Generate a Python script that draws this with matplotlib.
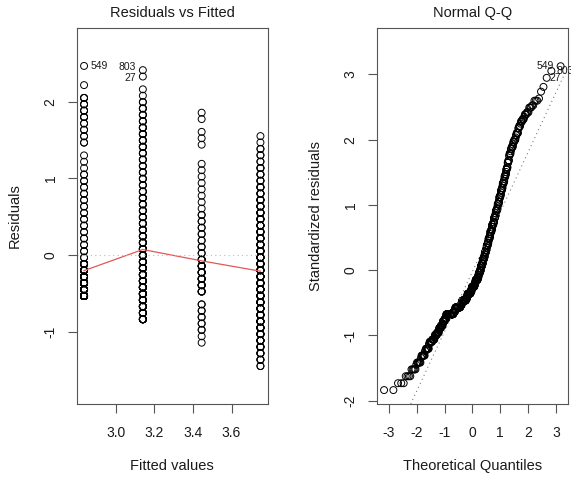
import numpy as np
import matplotlib
matplotlib.use("Agg")
import matplotlib.pyplot as plt
from statistics import NormalDist

plt.rcParams['font.family'] = ['Liberation Sans', 'DejaVu Sans']
plt.rcParams['axes.unicode_minus'] = False

# ---- data -------------------------------------------------------------
# fitted value of each of the four predictor groups
fitted_levels = [2.835, 3.140, 3.445, 3.750]

# observed response values (shared grid) and how many cases sit at each
response_levels = [2.300, 2.383, 2.467, 2.550, 2.633, 2.717, 2.800, 2.883, 2.967, 3.050,
                   3.133, 3.217, 3.300, 3.383, 3.467, 3.550, 3.633, 3.717, 3.800, 3.883,
                   3.967, 4.050, 4.133, 4.217, 4.300, 4.383, 4.467, 4.550, 4.633, 4.717,
                   4.800, 4.883, 4.967, 5.050, 5.133, 5.217, 5.300, 5.383, 5.467, 5.550]

counts_group1 = [38, 30, 25, 18, 14, 10, 2, 2, 2, 2,
                 2, 2, 2, 2, 2, 2, 2, 2, 2, 2,
                 1, 1, 1, 0, 2, 2, 2, 2, 3, 3,
                 3, 3, 0, 1, 0, 0, 1, 0, 0, 0]
counts_group2 = [8, 8, 9, 10, 12, 12, 11, 9, 8, 7,
                 7, 6, 6, 5, 5, 4, 4, 4, 4, 4,
                 3, 3, 3, 3, 3, 3, 3, 4, 4, 4,
                 4, 3, 3, 3, 2, 1, 1, 0, 1, 1]
counts_group3 = [1, 1, 2, 2, 2, 2, 2, 0, 4, 5,
                 5, 5, 5, 4, 2, 2, 2, 2, 2, 2,
                 2, 1, 1, 1, 1, 1, 1, 1, 1, 0,
                 0, 1, 1, 1, 0, 1, 1, 0, 0, 0]
counts_group4 = [2, 3, 4, 5, 6, 7, 8, 8, 8, 8,
                 9, 10, 10, 9, 9, 8, 8, 8, 8, 7,
                 7, 6, 6, 6, 6, 5, 5, 4, 4, 3,
                 3, 3, 2, 2, 2, 1, 1, 0, 0, 0]

# identified observations: case id, group, response level
label_ids = ["549", "803", "27"]
label_group = [0, 1, 1]
label_level = [36, 39, 38]

# ---- build the observations ---------------------------------------------
counts_by_group = [counts_group1, counts_group2, counts_group3, counts_group4]
yh, yobs, first_index = [], [], {}
for g, counts in enumerate(counts_by_group):
    for k, c in enumerate(counts):
        if c > 0:
            first_index[(g, k)] = len(yh)
        for _ in range(c):
            yh.append(fitted_levels[g])
            yobs.append(response_levels[k])
yh = np.array(yh)
yobs = np.array(yobs)
r = yobs - yh
n = len(r)

# standardized residuals (simple regression leverage)
sxx = np.sum((yh - yh.mean()) ** 2)
lev = 1.0 / n + (yh - yh.mean()) ** 2 / sxx
s = np.sqrt(np.sum(r ** 2) / (n - 2))
rs = r / (s * np.sqrt(1 - lev))

# theoretical normal quantiles
nd = NormalDist()
order = np.argsort(rs, kind="stable")
probs = (np.arange(1, n + 1) - 0.5) / n
tq = np.empty(n)
tq[order] = [nd.inv_cdf(p) for p in probs]


def lowess(x, y, f=2 / 3, nsteps=3):
    o = np.argsort(x, kind="stable")
    x = np.asarray(x, float)[o]
    y = np.asarray(y, float)[o]
    n = len(x)
    ns = max(2, min(n, int(f * n + 1e-7)))
    rng = x[-1] - x[0]
    rw = np.ones(n)
    ys = np.zeros(n)
    for it in range(nsteps + 1):
        nleft, nright = 0, ns - 1
        i = 0
        while i < n:
            while nright < n - 1 and x[i] - x[nleft] > x[nright + 1] - x[i]:
                nleft += 1
                nright += 1
            h = max(x[i] - x[nleft], x[nright] - x[i])
            d = np.abs(x - x[i])
            idx = np.arange(n)
            use = (idx >= nleft) & (d <= 0.999 * h)
            w = np.zeros(n)
            w[use] = np.where(d[use] <= 0.001 * h, 1.0,
                              (1 - (d[use] / max(h, 1e-12)) ** 3) ** 3)
            if it > 0:
                w *= rw
            a = w.sum()
            if a <= 0:
                fit = y[i]
            else:
                w = w / a
                if h > 0:
                    xm = np.sum(w * x)
                    b = x[i] - xm
                    c = np.sum(w * (x - xm) ** 2)
                    if np.sqrt(c) > 0.001 * rng:
                        w = w * (b / c * (x - xm) + 1.0)
                fit = np.sum(w * y)
            same = x == x[i]
            ys[same] = fit
            i = np.max(np.nonzero(same)[0]) + 1
        res = y - ys
        if it == nsteps:
            break
        ar = np.sort(np.abs(res))
        m1 = n // 2
        cmad = 3.0 * (ar[m1] + ar[n - m1 - 1]) if n % 2 == 0 else 6.0 * ar[m1]
        ares = np.abs(res)
        rw = np.where(ares <= 0.001 * cmad, 1.0,
                      np.where(ares <= 0.999 * cmad, (1 - (ares / cmad) ** 2) ** 2, 0.0))
    return x, ys


sx, sy = lowess(yh, r)

# ---- figure -------------------------------------------------------------
fig = plt.figure(figsize=(5.71, 4.83), dpi=100)
ax1 = fig.add_axes([77 / 571, 79 / 483, 190.5 / 571, 376 / 483])
ax2 = fig.add_axes([377 / 571, 79 / 483, 190.7 / 571, 376 / 483])

frame_col = "#555555"
text_col = "#1a1a1a"
for ax in (ax1, ax2):
    for sp in ax.spines.values():
        sp.set_color(frame_col)
        sp.set_linewidth(0.8)
    ax.tick_params(axis="both", direction="out", length=6.5, width=0.8,
                   color=frame_col, labelsize=10, labelcolor=text_col)
    ax.tick_params(axis="x", pad=9)
    ax.tick_params(axis="y", pad=7.5)

mk = dict(marker="o", s=25, facecolors="none", edgecolors="black", linewidths=0.7)

# Residuals vs Fitted
ax1.scatter(yh, r, **mk)
ax1.plot(sx, sy, color="#E05858", lw=0.9)
ax1.axhline(0, color="#bdbdbd", lw=0.8, ls=(0, (1, 3)))
lo, hi = r.min(), r.max()
ext = 0.08 * (hi - lo)
lo, hi = lo - ext, hi + ext
pad = 0.04 * (hi - lo)
ax1.set_ylim(lo - pad, hi + pad)
xl, xh = yh.min(), yh.max()
ax1.set_xlim(xl - 0.04 * (xh - xl), xh + 0.04 * (xh - xl))
ax1.set_xticks([3.0, 3.2, 3.4, 3.6])
ax1.set_xticklabels(["3.0", "3.2", "3.4", "3.6"])
ax1.set_yticks([-1, 0, 1, 2])
ax1.set_yticklabels(["-1", "0", "1", "2"], rotation=90, va="center")

# Normal Q-Q
ax2.scatter(tq, rs, **mk)
q1, q3 = np.quantile(rs, [0.25, 0.75])
z1, z3 = nd.inv_cdf(0.25), nd.inv_cdf(0.75)
slope = (q3 - q1) / (z3 - z1)
icpt = q1 - slope * z1
ax2.axline((0, icpt), slope=slope, color="#7f7f7f", lw=0.8, ls=(0, (1, 3)))
lo, hi = rs.min(), rs.max()
hi = hi + 0.075 * (hi - lo)
pad = 0.04 * (hi - lo)
ax2.set_ylim(lo - pad, hi + pad)
xl, xh = tq.min(), tq.max()
ax2.set_xlim(xl - 0.04 * (xh - xl), xh + 0.04 * (xh - xl))
ax2.set_xticks([-3, -2, -1, 0, 1, 2, 3])
ax2.set_xticklabels(["-3", "-2", "-1", "0", "1", "2", "3"])
ax2.set_yticks([-2, -1, 0, 1, 2, 3])
ax2.set_yticklabels(["-2", "-1", "0", "1", "2", "3"], rotation=90, va="center")

# identified cases
rf_offsets = {"549": (5, 0, "left"), "803": (-5, 2, "right"), "27": (-5, -1, "right")}
qq_offsets = {"549": (-5, 0, "right"), "803": (4, 0, "left"), "27": (2, 0, "left")}
for lid, g, k in zip(label_ids, label_group, label_level):
    i = first_index[(g, k)]
    dx, dy, ha = rf_offsets[lid]
    ax1.annotate(lid, (yh[i], r[i]), xytext=(dx, dy), textcoords="offset points",
                 ha=ha, va="center", fontsize=7.5, color=text_col, annotation_clip=False)
    dx, dy, ha = qq_offsets[lid]
    ax2.annotate(lid, (tq[i], rs[i]), xytext=(dx, dy), textcoords="offset points",
                 ha=ha, va="center", fontsize=7.5, color=text_col, annotation_clip=False)

# titles and axis labels
for ax, title, xlab, ylab, ylx in ((ax1, "Residuals vs Fitted", "Fitted values", "Residuals", -62),
                                     (ax2, "Normal Q-Q", "Theoretical Quantiles", "Standardized residuals", -61)):
    ax.text(0.5, 1 + 15 / 376, title, transform=ax.transAxes, ha="center", va="center",
            fontsize=10.5, color=text_col)
    ax.text(0.5, -62 / 376, xlab, transform=ax.transAxes, ha="center", va="center",
            fontsize=10.5, color=text_col)
    ax.text(ylx / 190.5, 0.5, ylab, transform=ax.transAxes, ha="center", va="center",
            rotation=90, fontsize=10.5, color=text_col)

fig.savefig("out.png", dpi=100)
